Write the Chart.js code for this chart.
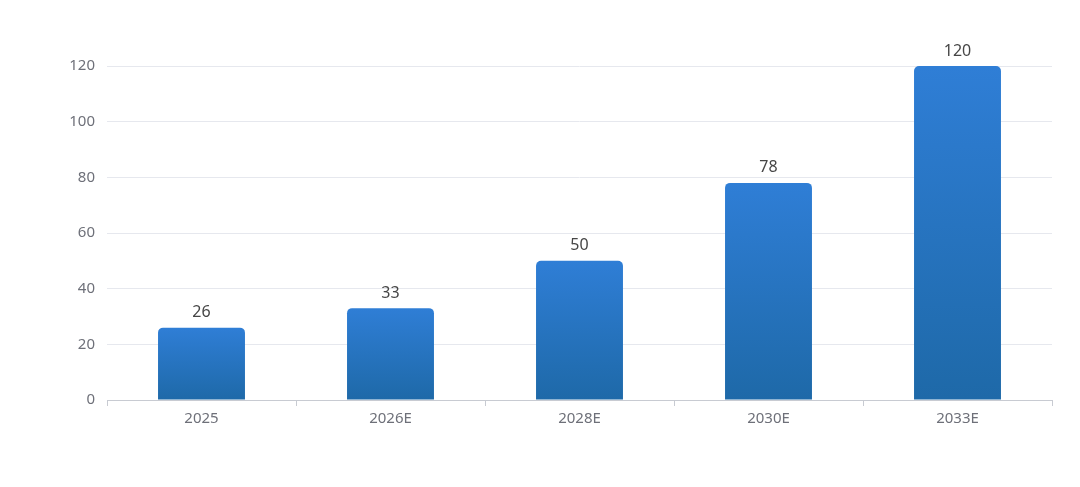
<!DOCTYPE html>
<html>
<head>
<meta charset="utf-8">
<script src="https://cdn.jsdelivr.net/npm/chart.js@4/dist/chart.umd.min.js"></script>
<style>
  html, body { margin: 0; padding: 0; background: #fff; }
  #wrap { width: 1080px; height: 487px; }
</style>
</head>
<body>
<div id="wrap"><canvas id="marketChart"></canvas></div>
<script>
// data
const years = ['2025', '2026E', '2028E', '2030E', '2033E'];
const marketValues = [26, 33, 50, 78, 120];
const yTicks = [0, 20, 40, 60, 80, 100, 120];

// gradient per bar, top to bottom
function barGradient(context) {
    const chart = context.chart;
    const area = chart.chartArea;
    if (!area || context.dataIndex === undefined) return '#2a78c8';
    const yScale = chart.scales.y;
    const top = yScale.getPixelForValue(marketValues[context.dataIndex]);
    const bottom = yScale.getPixelForValue(0);
    const g = chart.ctx.createLinearGradient(0, top, 0, bottom);
    g.addColorStop(0, '#2f7ed6');
    g.addColorStop(1, '#1e69a8');
    return g;
}

// value labels above each bar
const valueLabels = {
    id: 'valueLabels',
    afterDatasetsDraw(chart) {
        const ctx = chart.ctx;
        const meta = chart.getDatasetMeta(0);
        ctx.save();
        ctx.font = '16px "Noto Sans", sans-serif';
        ctx.fillStyle = '#464646';
        ctx.textAlign = 'center';
        ctx.textBaseline = 'bottom';
        meta.data.forEach((bar, i) => {
            ctx.fillText(String(marketValues[i]), bar.x, bar.y - 7);
        });
        ctx.restore();
    }
};

new Chart(document.getElementById('marketChart'), {
    type: 'bar',
    data: {
        labels: years,
        datasets: [{
            data: marketValues,
            backgroundColor: barGradient,
            borderRadius: { topLeft: 5, topRight: 5 },
            borderSkipped: 'bottom',
            categoryPercentage: 1,
            barPercentage: 0.46
        }]
    },
    options: {
        responsive: true,
        maintainAspectRatio: false,
        animation: false,
        layout: { padding: { top: 66, right: 28, left: 0, bottom: 0 } },
        plugins: {
            legend: { display: false },
            tooltip: { enabled: false }
        },
        scales: {
            x: {
                afterFit(scale) { scale.height = 87; },
                grid: {
                    offset: true,
                    drawOnChartArea: false,
                    drawTicks: true,
                    tickLength: 6,
                    color: '#c8cbd2'
                },
                border: { display: true, color: '#c8cbd2', width: 1 },
                ticks: {
                    color: '#6e7079',
                    font: { family: '"Noto Sans", sans-serif', size: 15 },
                    padding: 4
                }
            },
            y: {
                min: 0,
                max: 120,
                afterFit(scale) { scale.width = 107; },
                afterBuildTicks(scale) {
                    scale.ticks = yTicks.map(v => ({ value: v }));
                },
                grid: {
                    color: '#e6e8ee',
                    drawTicks: false
                },
                border: { display: false },
                ticks: {
                    color: '#6e7079',
                    font: { family: '"Noto Sans", sans-serif', size: 15 },
                    padding: 12
                }
            }
        }
    },
    plugins: [valueLabels]
});
</script>
</body>
</html>
